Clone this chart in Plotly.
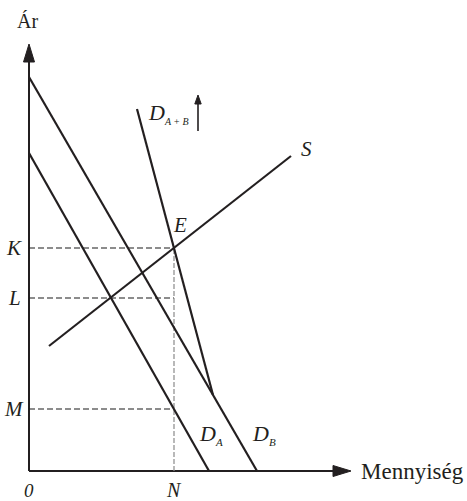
import plotly.graph_objects as go

# ---- data (price / quantity units) ----
D_A_q = [0.0, 9.0]
D_A_p = [15.9, 0.0]
D_B_q = [0.0, 11.4]
D_B_p = [19.7, 0.0]
D_AB_q = [5.4, 9.2]
D_AB_p = [18.1, 3.8]
S_q = [1.0, 13.1]
S_p = [6.25, 15.75]

N_q = 7.25
price_levels = {"K": 11.15, "L": 8.65, "M": 3.1}

X_AXIS_END = 16.1
Y_AXIS_END = 21.35

# ---- style ----
INK = "#231f20"
FONT = "Liberation Serif"
W, H = 467, 501
ML, MB = 29, 30
UNIT = 20.0  # px per data unit

fig = go.Figure()

def line(xs, ys, color=INK, width=2, dash="solid"):
    fig.add_trace(go.Scatter(x=xs, y=ys, mode="lines",
                             line=dict(color=color, width=width, dash=dash),
                             hoverinfo="skip", showlegend=False, cliponaxis=False))

def head_up(x, tip, length, half):
    fig.add_trace(go.Scatter(x=[x, x - half, x + half, x], y=[tip, tip - length, tip - length, tip],
                             mode="lines", fill="toself", fillcolor=INK, line=dict(color=INK, width=1),
                             hoverinfo="skip", showlegend=False, cliponaxis=False))

def head_right(y, tip, length, half):
    fig.add_trace(go.Scatter(x=[tip, tip - length, tip - length, tip], y=[y, y + half, y - half, y],
                             mode="lines", fill="toself", fillcolor=INK, line=dict(color=INK, width=1),
                             hoverinfo="skip", showlegend=False, cliponaxis=False))

def px2x(px):
    return (px - ML) / UNIT

def py2y(py):
    return (H - MB - py) / UNIT

# axes
line([0, 0], [0, Y_AXIS_END - 0.5], width=2)
line([0, X_AXIS_END - 0.5], [0, 0], width=2)
head_up(0, Y_AXIS_END, 18 / UNIT, 5.5 / UNIT)
head_right(0, X_AXIS_END, 18 / UNIT, 5.5 / UNIT)

# dashed guides
for name, p in price_levels.items():
    line([0, N_q], [p, p], color="#1a1a1a", width=1.2, dash="6px,3px")
line([N_q, N_q], [0, price_levels["K"]], color="#8a8a8a", width=1.2, dash="5px,2px")

# curves
line(D_A_q, D_A_p, width=2.2)
line(D_B_q, D_B_p, width=2.2)
line(D_AB_q, D_AB_p, width=2.2)
line(S_q, S_p, width=2.2)

# shift arrow next to D_A+B
line([px2x(198), px2x(198)], [py2y(131), py2y(103)], width=1.6)
head_up(px2x(198), py2y(95), 9 / UNIT, 3.2 / UNIT)

ann = []
def label(text, px, py, size=20, italic=True, xanchor="center"):
    ann.append(dict(x=px2x(px), y=py2y(py), xref="x", yref="y", text=text, showarrow=False,
                    xanchor=xanchor, yanchor="middle",
                    font=dict(family=FONT, size=size, color=INK, style="italic" if italic else "normal")))

label("Ár", 27, 21, size=20, italic=False)
label("Mennyiség", 359, 471, size=23, italic=False, xanchor="left")
label("0", 29, 490, size=19)
label("N", 174, 490, size=20)
for name, p in price_levels.items():
    ann.append(dict(x=px2x(14), y=p, xref="x", yref="y", text=name, showarrow=False,
                    xanchor="center", yanchor="middle",
                    font=dict(family=FONT, size=21, color=INK, style="italic")))
label("E", 180, 225, size=21)
label("S", 306, 149, size=21)
label("D<sub><span style='font-size:10px'>A + B</span></sub>", 146, 113, size=22, xanchor="left")
label("D<sub><span style='font-size:11px'>A</span></sub>", 197, 434, size=22, xanchor="left")
label("D<sub><span style='font-size:11px'>B</span></sub>", 250, 434, size=22, xanchor="left")

fig.update_layout(
    width=W, height=H,
    margin=dict(l=0, r=0, t=0, b=0, autoexpand=False),
    paper_bgcolor="white", plot_bgcolor="white",
    xaxis=dict(range=[-ML / UNIT, (W - ML) / UNIT], visible=False, fixedrange=True),
    yaxis=dict(range=[-MB / UNIT, (H - MB) / UNIT], visible=False, fixedrange=True),
    annotations=ann,
    showlegend=False,
)

fig.write_html("out.html", config={"displayModeBar": False},
               post_script="document.body.style.margin='0';document.body.style.overflow='hidden';")
